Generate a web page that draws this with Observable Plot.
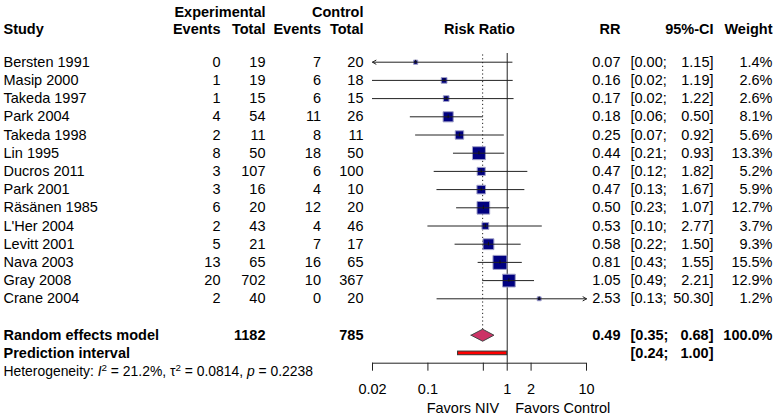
<!DOCTYPE html>
<html>
<head>
<meta charset="utf-8">
<script src="https://cdn.jsdelivr.net/npm/d3@7"></script>
<script src="https://cdn.jsdelivr.net/npm/@observablehq/plot@0.6"></script>
<style>
  html, body { margin: 0; padding: 0; background: #fff; }
  #chart { width: 774px; height: 416px; }
</style>
</head>
<body>
<div id="chart"></div>
<script>
// Study-level data
const studies = ["Bersten 1991", "Masip 2000", "Takeda 1997", "Park 2004", "Takeda 1998", "Lin 1995",
  "Ducros 2011", "Park 2001", "Räsänen 1985", "L'Her 2004", "Levitt 2001", "Nava 2003", "Gray 2008", "Crane 2004"];
const expEvents  = [0, 1, 1, 4, 2, 8, 3, 3, 6, 2, 5, 13, 20, 2];
const expTotal   = [19, 19, 15, 54, 11, 50, 107, 16, 20, 43, 21, 65, 702, 40];
const ctrlEvents = [7, 6, 6, 11, 8, 18, 6, 4, 12, 4, 7, 16, 10, 0];
const ctrlTotal  = [20, 18, 15, 26, 11, 50, 100, 10, 20, 46, 17, 65, 367, 20];
const riskRatio  = [0.07, 0.16, 0.17, 0.18, 0.25, 0.44, 0.47, 0.47, 0.50, 0.53, 0.58, 0.81, 1.05, 2.53];
const ciLower    = [0.00, 0.02, 0.02, 0.06, 0.07, 0.21, 0.12, 0.13, 0.23, 0.10, 0.22, 0.43, 0.49, 0.13];
const ciUpper    = [1.15, 1.19, 1.22, 0.50, 0.92, 0.93, 1.82, 1.67, 1.07, 2.77, 1.50, 1.55, 2.21, 50.30];
const weights    = [1.4, 2.6, 2.6, 8.1, 5.6, 13.3, 5.2, 5.9, 12.7, 3.7, 9.3, 15.5, 12.9, 1.2];

// Pooled estimate and prediction interval
const pooledTotals = [1182, 785];
const pooledRR = [0.49, 0.35, 0.68];     // estimate, lower, upper
const pooledWeight = 100.0;
const predictionInterval = [0.24, 1.00];
const heterogeneity = { i2: "21.2%", tau2: "0.0814", p: "0.2238" };

// Axis
const xTicks = [0.02, 0.1, 0.5, 1, 2, 10];
const xMin = 0.02, xMax = 10, nullEffect = 1;
const favorLabels = ["Favors NIV", "Favors Control"];

// Layout (pixels)
const W = 774, H = 416;
const axisLeft = 372, axisRight = 586, frameTop = 53, axisY = 362.7;
const rowTop = 61.7, rowStep = 18.2;
const col = { study: 3, expEv: 220, expTot: 265, ctlEv: 320.5, ctlTot: 363, rr: 620, ciLo: 630, ciHi: 713, weight: 772 };
const headRow1 = -2.73, headRow2 = -1.78;
const pooledRow = 15, predRow = 16, hetRow = 17;
const axisRow = (axisY - rowTop) / rowStep;
const FS = 14.5;

const rows = studies.map((s, i) => ({
  row: i, study: s, e1: expEvents[i], n1: expTotal[i], e2: ctrlEvents[i], n2: ctrlTotal[i],
  rr: riskRatio[i], lo: ciLower[i], hi: ciUpper[i], w: weights[i]
}));
const inside = rows.filter(d => d.lo >= xMin && d.hi <= xMax);
const clipped = rows.filter(d => d.lo < xMin || d.hi > xMax).map(d => ({
  ...d,
  from: d.lo < xMin ? d.hi : d.lo,
  to: d.lo < xMin ? xMin : xMax
}));

const f2 = v => v.toFixed(2);

// Text column helper: px is the absolute anchor position in the figure
function column(data, text, px, anchor, extra = {}) {
  return Plot.text(data, {
    y: "row", text, frameAnchor: "left", dx: px - axisLeft,
    textAnchor: anchor, fill: "black", fontSize: FS, ...extra
  });
}

const headers = [
  { row: headRow1, t: "Experimental", px: col.expTot, a: "end" },
  { row: headRow1, t: "Control", px: col.ctlTot, a: "end" },
  { row: headRow2, t: "Study", px: col.study, a: "start" },
  { row: headRow2, t: "Events", px: col.expEv, a: "end" },
  { row: headRow2, t: "Total", px: col.expTot, a: "end" },
  { row: headRow2, t: "Events", px: col.ctlEv, a: "end" },
  { row: headRow2, t: "Total", px: col.ctlTot, a: "end" },
  { row: headRow2, t: "RR", px: col.rr, a: "end" },
  { row: headRow2, t: "95%-CI", px: col.ciHi, a: "end" },
  { row: headRow2, t: "Weight", px: col.weight, a: "end" }
];

const pooled = { row: pooledRow, rr: pooledRR[0], lo: pooledRR[1], hi: pooledRR[2] };
const dh = 0.33;
const diamond = [
  { x: pooled.lo, y: pooledRow }, { x: pooled.rr, y: pooledRow - dh },
  { x: pooled.hi, y: pooledRow }, { x: pooled.rr, y: pooledRow + dh }, { x: pooled.lo, y: pooledRow }
];

const summaryText = [
  { row: pooledRow, t: "Random effects model", px: col.study, a: "start" },
  { row: pooledRow, t: String(pooledTotals[0]), px: col.expTot, a: "end" },
  { row: pooledRow, t: String(pooledTotals[1]), px: col.ctlTot, a: "end" },
  { row: pooledRow, t: f2(pooled.rr), px: col.rr, a: "end" },
  { row: pooledRow, t: "[" + f2(pooled.lo) + ";", px: col.ciLo, a: "start" },
  { row: pooledRow, t: f2(pooled.hi) + "]", px: col.ciHi, a: "end" },
  { row: pooledRow, t: pooledWeight.toFixed(1) + "%", px: col.weight, a: "end" },
  { row: predRow, t: "Prediction interval", px: col.study, a: "start" },
  { row: predRow, t: "[" + f2(predictionInterval[0]) + ";", px: col.ciLo, a: "start" },
  { row: predRow, t: f2(predictionInterval[1]) + "]", px: col.ciHi, a: "end" }
];

const hetString = `Heterogeneity: I2 = ${heterogeneity.i2}, τ2 = ${heterogeneity.tau2}, p = ${heterogeneity.p}`;

const chart = Plot.plot({
  width: W, height: H,
  marginLeft: axisLeft, marginRight: W - axisRight, marginTop: frameTop, marginBottom: H - axisY,
  x: { type: "log", domain: [xMin, xMax] },
  y: { domain: [0, 13], range: [rowTop, rowTop + 13 * rowStep], axis: null },
  r: { type: "sqrt", domain: [0, 15.5], range: [0, 7.9] },
  style: { fontFamily: "'Liberation Sans', Arial, Helvetica, sans-serif", fontSize: FS + "px", background: "#fff", color: "black" },
  marks: [
    // reference lines
    Plot.ruleX([pooled], { x: "rr", y1: -0.4, y2: pooledRow, stroke: "#222", strokeWidth: 1, strokeDasharray: "1.2,2.6" }),
    Plot.ruleX([nullEffect], { stroke: "#222", strokeWidth: 1 }),
    // study boxes and confidence intervals
    Plot.dot(rows, { x: "rr", y: "row", r: "w", symbol: "square", fill: "#000080", stroke: "#a0a0c8", strokeWidth: 1 }),
    Plot.ruleY(inside, { y: "row", x1: "lo", x2: "hi", stroke: "#222", strokeWidth: 1 }),
    Plot.arrow(clipped, { x1: "from", x2: "to", y1: "row", y2: "row", stroke: "#222", strokeWidth: 1, headLength: 6, headAngle: 60 }),
    Plot.ruleX(rows, { x: "rr", y1: d => d.row - 0.1, y2: d => d.row + 0.1, stroke: "#111", strokeWidth: 1 }),
    // pooled diamond and prediction interval
    Plot.line(diamond, { x: "x", y: "y", fill: "#cc3366", stroke: "#444", strokeWidth: 1 }),
    Plot.rect([predictionInterval], { x1: d => d[0], x2: d => d[1], y1: predRow - 0.1, y2: predRow + 0.1, fill: "#ff0000", stroke: "#333", strokeWidth: 1 }),
    // axis
    Plot.ruleY([axisRow], { x1: xMin, x2: xMax, stroke: "#222", strokeWidth: 1 }),
    Plot.axisX({ ticks: xTicks, tickFormat: d => String(d), tickSize: 8, tickPadding: 13, fontSize: FS, label: null, stroke: "#222", fill: "black" }),
    Plot.text([{ x: nullEffect, t: favorLabels[0] }], { x: "x", text: "t", frameAnchor: "bottom", dy: 50, dx: -8, textAnchor: "end", fill: "black", fontSize: FS }),
    Plot.text([{ x: nullEffect, t: favorLabels[1] }], { x: "x", text: "t", frameAnchor: "bottom", dy: 50, dx: 8, textAnchor: "start", fill: "black", fontSize: FS }),
    // headers
    ...headers.map(h => column([h], "t", h.px, h.a, { fontWeight: "bold" })),
    Plot.text([{ row: headRow2, t: "Risk Ratio" }], { y: "row", text: "t", frameAnchor: "middle", fontWeight: "bold", fill: "black", fontSize: FS }),
    // study columns
    column(rows, "study", col.study, "start"),
    column(rows, "e1", col.expEv, "end"),
    column(rows, "n1", col.expTot, "end"),
    column(rows, "e2", col.ctlEv, "end"),
    column(rows, "n2", col.ctlTot, "end"),
    column(rows, d => f2(d.rr), col.rr, "end"),
    column(rows, d => "[" + f2(d.lo) + ";", col.ciLo, "start"),
    column(rows, d => f2(d.hi) + "]", col.ciHi, "end"),
    column(rows, d => d.w.toFixed(1) + "%", col.weight, "end"),
    // summary rows
    ...summaryText.map(s => column([s], "t", s.px, s.a, { fontWeight: "bold" })),
    column([{ row: hetRow, t: hetString }], "t", col.study, "start", { fontSize: 13.9 })
  ]
});

document.getElementById("chart").appendChild(chart);

// Heterogeneity line: italic symbols and superscripts
const svgNS = "http://www.w3.org/2000/svg";
chart.querySelectorAll("text").forEach(el => {
  if (el.textContent !== hetString) return;
  while (el.firstChild) el.removeChild(el.firstChild);
  const parts = [
    ["Heterogeneity: "], ["I", "italic"], ["2", "sup"], [` = ${heterogeneity.i2}, τ`], ["2", "sup"],
    [` = ${heterogeneity.tau2}, `], ["p", "italic"], [` = ${heterogeneity.p}`]
  ];
  let shifted = false;
  parts.forEach(([t, kind]) => {
    const ts = document.createElementNS(svgNS, "tspan");
    ts.textContent = t;
    if (kind === "italic") ts.setAttribute("font-style", "italic");
    if (kind === "sup") { ts.setAttribute("font-size", "9.8"); ts.setAttribute("dy", "-5"); shifted = true; }
    else if (shifted) { ts.setAttribute("dy", "5"); shifted = false; }
    el.appendChild(ts);
  });
});
</script>
</body>
</html>
